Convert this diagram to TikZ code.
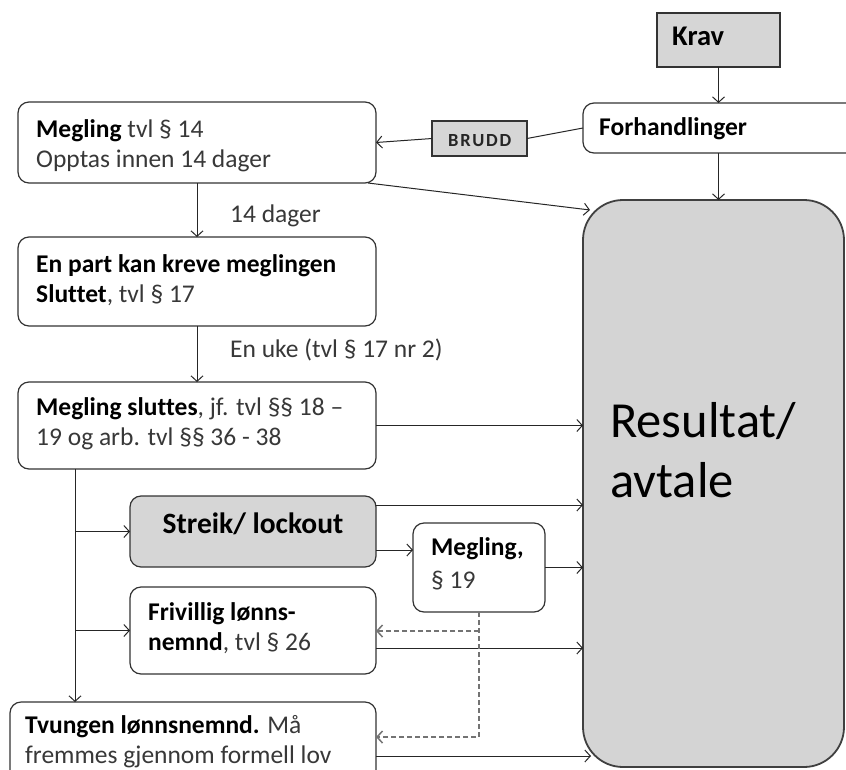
\documentclass[tikz,border=0pt]{standalone}
\usepackage{fontspec}
\setmainfont{Carlito}[Ligatures=NoCommon]
\usetikzlibrary{arrows.meta}
\begin{document}
\begin{tikzpicture}[x=1pt,y=-1pt,
  boxbase/.style={draw=black!80, line width=1.2pt, inner sep=0pt, outer sep=0pt, anchor=north west},
  bx/.style={boxbase, rounded corners=11pt, fill=white},
  gbx/.style={boxbase, fill=black!16},
  grbx/.style={boxbase, rounded corners=11pt, fill=black!16},
  resbx/.style={boxbase, rounded corners=40pt, fill=black!17, draw=black!75, line width=1.8pt},
  conn/.style={draw=black!85, line width=1pt, -{Straight Barb[length=5.5pt,width=12pt]}},
  plain/.style={draw=black!85, line width=1pt},
  dconn/.style={draw=black!55, line width=1.5pt, dash pattern=on 5pt off 3pt, -{Straight Barb[length=5.5pt,width=12pt]}},
  txt/.style={anchor=base west, inner sep=0pt, font=\fontsize{25.5}{30}\selectfont, text=black!78},
  btxt/.style={txt, font=\fontsize{25.5}{30}\selectfont\bfseries, text=black},
  bigtxt/.style={anchor=base west, inner sep=0pt, font=\fontsize{50.5}{60}\selectfont, text=black},
  smalltxt/.style={anchor=base west, inner sep=0pt, font=\fontsize{18.5}{22}\selectfont\bfseries\addfontfeature{LetterSpace=10}, text=black!85}
]
\clip (0,0) rectangle (846,769);
\fill[white] (0,0) rectangle (846,769);

% boxes
\node[gbx, minimum width=123pt, minimum height=54pt] (krav) at (657,13) {};
\node[bx, minimum width=300pt, minimum height=50pt] (forh) at (583,103) {};
\node[gbx, minimum width=95pt, minimum height=35pt] (brudd) at (432,121) {};
\node[bx, minimum width=358pt, minimum height=81pt] (meg) at (18,102) {};
\node[bx, minimum width=358pt, minimum height=89pt] (part) at (18,237) {};
\node[bx, minimum width=358pt, minimum height=87pt] (slutt) at (18,382) {};
\node[grbx, minimum width=246pt, minimum height=71pt] (streik) at (130,496) {};
\node[bx, minimum width=132pt, minimum height=89pt] (m19) at (413,523) {};
\node[bx, minimum width=246pt, minimum height=87pt] (friv) at (130,587) {};
\node[bx, minimum width=366pt, minimum height=108pt] (tvung) at (10,702) {};
\node[resbx, minimum width=261pt, minimum height=567pt] (res) at (583,200) {};

% texts
\node[btxt, font=\fontsize{28.5}{30}\selectfont\bfseries] (tkrav) at (672,45) {Krav};
\node[btxt] (tforh) at (599,135) {Forhandlinger};
\node[smalltxt] (tbrudd) at (448,146) {BRUDD};
\node[txt] (tmeg1) at (36,137) {\textcolor{black}{\bfseries Megling} tvl § 14};
\node[txt] (tmeg2) at (36,167) {Opptas innen 14 dager};
\node[txt] (tdager) at (230,222) {14 dager};
\node[btxt] (tpart1) at (36,272) {En part kan kreve meglingen};
\node[txt] (tpart2) at (36,302) {\textcolor{black}{\bfseries Sluttet}, tvl § 17};
\node[txt] (tuke) at (230,357) {En uke (tvl § 17 nr 2)};
\node[txt] (tslutt1) at (36,415) {\textcolor{black}{\bfseries Megling sluttes}, jf. tvl §§ 18 –};
\node[txt] (tslutt2) at (36,445) {19 og arb. tvl §§ 36 - 38};
\node[btxt, anchor=base, font=\fontsize{29.5}{30}\selectfont\bfseries] (tstreik) at (253,533) {Streik/ lockout};
\node[btxt] (tm191) at (431,555) {Megling,};
\node[txt] (tm192) at (431,588) {§ 19};
\node[btxt] (tfriv1) at (148,620) {Frivillig lønns-};
\node[txt] (tfriv2) at (148,650) {\textcolor{black}{\bfseries nemnd}, tvl § 26};
\node[txt] (ttvung1) at (25,733) {\textcolor{black}{\bfseries Tvungen lønnsnemnd.} Må};
\node[txt] (ttvung2) at (25,763) {fremmes gjennom formell lov};
\node[bigtxt] (tres1) at (610,437) {Resultat/};
\node[bigtxt] (tres2) at (610,497) {avtale};

% connectors
\coordinate (trunk) at (75,0);
\draw[conn] (krav.south) -- (krav.south |- forh.north);
\draw[conn] (krav.south |- forh.south) -- (krav.south |- res.north);
\draw[plain] (forh.west) -- (brudd.east);
\draw[conn] (brudd.west) -- (meg.east);
\draw[conn] ([xshift=-8pt]meg.south east) -- ([shift={(7,10)}]res.north west);
\draw[conn] (meg.south) -- (part.north);
\draw[conn] (part.south) -- (slutt.north);
\draw[conn] (slutt.east) -- (slutt.east -| res.west);
\draw[conn] (trunk |- slutt.south) -- (trunk |- tvung.north);
\draw[conn] (trunk |- streik.west) -- (streik.west);
\draw[conn] (trunk |- friv.west) -- (friv.west);
\path ([yshift=-9pt]streik.north east) coordinate (s1);
\draw[conn] (s1) -- (s1 -| res.west);
\path ([yshift=-54pt]streik.north east) coordinate (s2);
\draw[conn] (s2) -- (s2 -| m19.west);
\draw[conn] (m19.east) -- (m19.east -| res.west);
\path ([yshift=-61pt]friv.north east) coordinate (f1);
\draw[conn] (f1) -- (f1 -| res.west);
\draw[conn] (tvung.east) -- ([xshift=8pt]res.west |- tvung.east);
\coordinate (d1) at (479,631);
\coordinate (d2) at (479,737);
\draw[dconn] (m19.south) -- (d2) -- (d2 -| tvung.east);
\draw[dconn] (d1) -- (d1 -| friv.east);
\end{tikzpicture}
\end{document}
